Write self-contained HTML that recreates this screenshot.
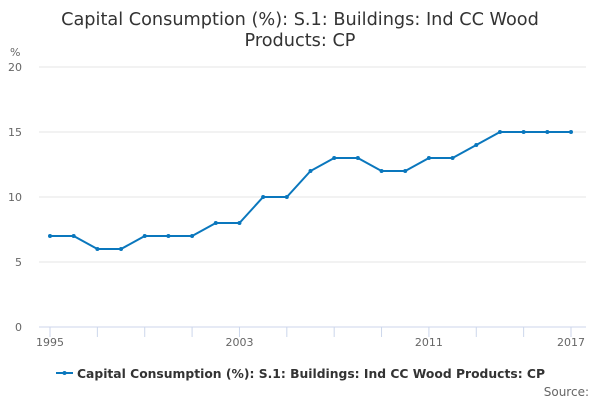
<!DOCTYPE html>
<html><head><meta charset="utf-8"><style>
body{margin:0;background:#fff;font-family:"DejaVu Sans","Liberation Sans",sans-serif;}
svg text{font-family:"DejaVu Sans","Liberation Sans",sans-serif;}
</style></head><body>
<svg id="chart" width="600" height="400" xmlns="http://www.w3.org/2000/svg">
<text x="300" y="25" text-anchor="middle" font-size="17.7" fill="#333">Capital Consumption (%): S.1: Buildings: Ind CC Wood</text>
<text x="300" y="46" text-anchor="middle" font-size="17.7" fill="#333">Products: CP</text>
<text x="10" y="56" font-size="11" fill="#666">%</text>
<g id="grid"></g><g id="xaxis"></g><g id="series"></g>
<g>
<line x1="56" y1="373" x2="73" y2="373" stroke="#0a77bd" stroke-width="2"/>
<circle cx="64.5" cy="373" r="2" fill="#0a77bd"/>
<text x="77" y="378" font-size="12" font-weight="bold" fill="#333" textLength="468" lengthAdjust="spacingAndGlyphs">Capital Consumption (%): S.1: Buildings: Ind CC Wood Products: CP</text>
</g>
<text x="589" y="396" text-anchor="end" font-size="12" fill="#666">Source:</text>
</svg>
<script>
const years=[1995,1996,1997,1998,1999,2000,2001,2002,2003,2004,2005,2006,2007,2008,2009,2010,2011,2012,2013,2014,2015,2016,2017];
const values=[7,7,6,6,7,7,7,8,8,10,10,12,13,13,12,12,13,13,14,15,15,15,15];
const yTicks=[0,5,10,15,20];
const xLabels=[1995,2003,2011,2017];
const NS="http://www.w3.org/2000/svg";
const xs=y=>50+(y-1995)*(571-50)/22;
const ys=v=>327-v*13;
function mk(t,a,p){const e=document.createElementNS(NS,t);for(const k in a)e.setAttribute(k,a[k]);p.appendChild(e);return e;}
const g=document.getElementById('grid');
yTicks.forEach(v=>{
 const l=mk('line',{x1:39,x2:586,y1:ys(v),y2:ys(v),stroke:v===0?'#ccd6eb':'#e6e6e6','stroke-width':1},g);
 
 
 const t=mk('text',{x:22,y:ys(v)+4,'text-anchor':'end','font-size':11,fill:'#666'},g);
 t.textContent=v;
 
 
});
const xa=document.getElementById('xaxis');
years.forEach((y,i)=>{ if(i%2===0||y===2017){
 const l=mk('line',{x1:xs(y),x2:xs(y),y1:327,y2:337,stroke:'#ccd6eb'},xa);
 
 
}});
xLabels.forEach(y=>{
 const t=mk('text',{x:xs(y),y:346,'text-anchor':'middle','font-size':11,fill:'#666'},xa);
 t.textContent=y;
 
 
});
const s=document.getElementById('series');
const p=mk('polyline',{points:years.map((y,i)=>xs(y)+','+ys(values[i])).join(' '),fill:'none',stroke:'#0a77bd','stroke-width':2},s);


years.forEach((y,i)=>{
 const c=mk('circle',{cx:xs(y),cy:ys(values[i]),r:2,fill:'#0a77bd'},s);
 
 
});
</script>
</body></html>
